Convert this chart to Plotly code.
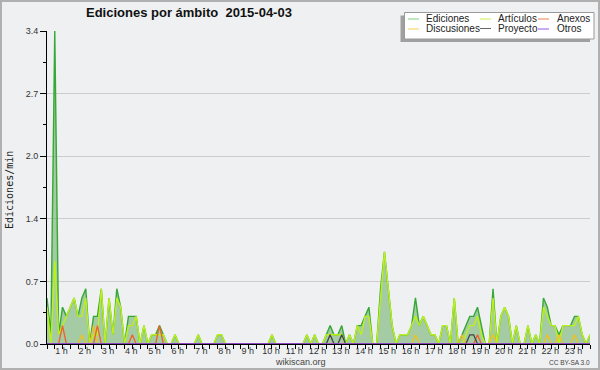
import plotly.graph_objects as go

N = 141  # 10-minute bins shown on the chart

def series(points):
    arr = [0.0] * N
    for k, v in points.items():
        arr[k] = v
    return arr

ediciones_pts = {0: 0.5, 1: 0.1, 2: 3.4, 3: 0.1, 4: 0.4, 5: 0.3, 6: 0.4, 7: 0.5, 8: 0.3, 9: 0.5,
                 10: 0.6, 12: 0.3, 13: 0.3, 14: 0.6, 16: 0.5, 17: 0.1, 18: 0.6, 19: 0.4,
                 21: 0.3, 22: 0.3, 23: 0.3, 25: 0.2, 27: 0.1, 28: 0.1, 29: 0.2, 30: 0.1,
                 33: 0.1, 39: 0.1, 44: 0.1, 45: 0.1, 58: 0.1, 67: 0.1, 69: 0.1,
                 72: 0.1, 73: 0.2, 74: 0.1, 75: 0.1, 76: 0.2, 78: 0.1,
                 80: 0.2, 81: 0.2, 82: 0.3, 83: 0.4, 86: 0.6, 87: 1.0, 88: 0.6, 89: 0.2,
                 91: 0.1, 92: 0.1, 93: 0.1, 94: 0.2, 95: 0.5, 96: 0.2, 97: 0.3, 98: 0.2, 99: 0.1, 100: 0.1,
                 102: 0.2, 103: 0.2, 105: 0.5, 107: 0.1, 108: 0.2, 109: 0.3, 110: 0.3, 111: 0.4, 112: 0.2,
                 115: 0.6, 117: 0.3, 118: 0.4, 119: 0.3, 121: 0.2, 124: 0.2, 126: 0.1,
                 128: 0.5, 129: 0.4, 130: 0.2, 131: 0.2, 132: 0.1, 133: 0.2, 134: 0.2, 135: 0.2,
                 136: 0.3, 137: 0.3, 138: 0.1, 140: 0.1}
articulos_pts = {0: 0.4, 2: 0.9, 3: 0.1, 4: 0.2, 5: 0.3, 6: 0.4, 7: 0.5, 8: 0.3, 9: 0.3, 10: 0.5,
                 12: 0.1, 13: 0.1, 14: 0.6, 16: 0.5, 17: 0.1, 18: 0.5, 19: 0.4,
                 21: 0.2, 22: 0.2, 23: 0.3, 25: 0.2, 27: 0.1, 28: 0.1, 29: 0.1, 30: 0.1,
                 33: 0.1, 39: 0.1, 44: 0.1, 45: 0.1, 58: 0.1, 67: 0.1, 69: 0.1,
                 72: 0.1, 73: 0.1, 74: 0.1, 75: 0.1, 76: 0.1, 78: 0.1,
                 80: 0.2, 81: 0.1, 82: 0.3, 83: 0.3, 86: 0.5, 87: 1.0, 88: 0.6, 89: 0.2,
                 91: 0.1, 92: 0.1, 93: 0.1, 94: 0.2, 95: 0.3, 96: 0.2, 97: 0.3, 98: 0.2, 99: 0.1, 100: 0.1,
                 102: 0.2, 103: 0.2, 105: 0.5, 108: 0.1, 109: 0.2, 110: 0.2, 111: 0.3, 112: 0.1,
                 115: 0.5, 117: 0.3, 118: 0.4, 119: 0.3, 121: 0.2, 124: 0.2, 126: 0.1,
                 128: 0.4, 129: 0.3, 130: 0.2, 131: 0.2, 133: 0.2, 134: 0.2, 135: 0.2,
                 136: 0.2, 137: 0.3, 138: 0.1, 140: 0.1}
anexos_pts = {4: 0.2, 13: 0.2, 22: 0.1, 29: 0.2, 111: 0.1}
discusiones_pts = {9: 0.1, 12: 0.2, 95: 0.1, 107: 0.1, 115: 0.1, 129: 0.1, 132: 0.1, 136: 0.1}
proyecto_pts = {73: 0.1, 76: 0.1, 109: 0.1, 110: 0.1}
otros_pts = {}

ediciones = series(ediciones_pts)
articulos = series(articulos_pts)
anexos = series(anexos_pts)
discusiones = series(discusiones_pts)
proyecto = series(proyecto_pts)
otros = series(otros_pts)

hours = list(range(1, 24))
hour_labels = [f"{h} h" for h in hours]
y_tick_vals = [0, 0.68, 1.36, 2.04, 2.72, 3.4]
y_tick_text = ["0.0", "0.7", "1.4", "2.0", "2.7", "3.4"]

x = list(range(N))

# pixel helpers (plot area: x 47..590, y 31..344)
L, R, T, B = 47, 590, 31, 344
def px(xp):
    return (xp - L) / (R - L)
def py(yp):
    return (B - yp) / (B - T)

fig = go.Figure()
fig.add_trace(go.Scatter(x=x, y=ediciones, mode="lines", name="Ediciones",
                         line=dict(color="#35a835", width=1.4),
                         fill="tozeroy", fillcolor="rgba(90,165,85,0.5)"))
fig.add_trace(go.Scatter(x=x, y=articulos, mode="lines", name="Artículos",
                         line=dict(color="#bdf01a", width=1.4)))
fig.add_trace(go.Scatter(x=x, y=discusiones, mode="lines", name="Discusiones",
                         line=dict(color="#f2c21a", width=1.3)))
fig.add_trace(go.Scatter(x=x, y=anexos, mode="lines", name="Anexos",
                         line=dict(color="#f0602a", width=1.3)))
fig.add_trace(go.Scatter(x=x, y=proyecto, mode="lines", name="Proyecto",
                         line=dict(color="#444444", width=1.3)))
fig.add_trace(go.Scatter(x=x, y=otros, mode="lines", name="Otros",
                         line=dict(color="#9944ee", width=1.3)))

label_pos = [6 * h - 2.26 for h in hours]

fig.update_layout(
    width=600, height=370,
    margin=dict(l=L, r=600 - R, t=T, b=370 - B, pad=0, autoexpand=False),
    paper_bgcolor="#eff0f1", plot_bgcolor="#eff0f1",
    showlegend=False,
    xaxis=dict(range=[0, N - 1], tickmode="array", tickvals=label_pos, ticktext=hour_labels,
               ticks="", ticklabelstandoff=-2, showgrid=False, zeroline=False, showline=True,
               linecolor="#000000", linewidth=1, automargin=False,
               tickfont=dict(family="Liberation Sans", size=9, color="#333333"),
               minor=dict(tickmode="array", tickvals=list(range(0, N, 2)), ticks="outside",
                          ticklen=4, tickcolor="#000000", showgrid=False)),
    yaxis=dict(range=[0, 3.4], tickmode="array", tickvals=y_tick_vals, ticktext=y_tick_text,
               ticks="outside", ticklen=6, tickcolor="#000000", showgrid=True, gridcolor="#cccccc",
               zeroline=False, showline=True, linecolor="#000000", linewidth=1, automargin=False,
               tickfont=dict(family="Liberation Sans", size=9, color="#333333"),
               minor=dict(tickmode="array", tickvals=[0.34, 1.02, 1.7, 2.38, 3.06], ticks="outside",
                          ticklen=3, tickcolor="#000000", showgrid=False)),
)

annotations = [
    dict(text="<b>Ediciones por ámbito \u00a02015-04-03</b>", x=px(188.5), y=py(13),
         font=dict(family="Liberation Sans", size=13, color="#111111")),
    dict(text="Ediciones/min", x=px(9), y=py(190), textangle=-90,
         font=dict(family="DejaVu Sans Mono", size=10, color="#222222")),
    dict(text="wikiscan.org", x=px(300), y=py(362),
         font=dict(family="Liberation Sans", size=9, color="#444444")),
    dict(text="CC BY-SA 3.0", x=px(569), y=py(362),
         font=dict(family="Liberation Sans", size=6.5, color="#444444")),
]

shapes = [
    dict(type="rect", xref="paper", yref="paper", x0=px(1), x1=px(599), y0=py(1), y1=py(369),
         line=dict(color="#b0b0b0", width=2), fillcolor="rgba(0,0,0,0)", layer="above"),
    dict(type="rect", xref="paper", yref="paper", x0=px(400.5), x1=px(590), y0=py(15.5), y1=py(42),
         line=dict(width=0), fillcolor="#a0a0a0", layer="above"),
    dict(type="rect", xref="paper", yref="paper", x0=px(404.5), x1=px(594), y0=py(12.5), y1=py(39),
         line=dict(color="#999999", width=1), fillcolor="#ffffff", layer="above"),
]

legend_items = [
    ("Ediciones", "#80d080", 408, 424, 19),
    ("Artículos", "#c8f050", 480, 496, 19),
    ("Anexos", "#f08050", 538, 555, 19),
    ("Discusiones", "#f5d050", 408, 424, 29),
    ("Proyecto", "#666666", 480, 496, 28.5),
    ("Otros", "#9955ee", 538, 555, 29),
]
for name, col, lx, tx, ry in legend_items:
    shapes.append(dict(type="line", xref="paper", yref="paper", x0=px(lx), x1=px(lx + 11),
                       y0=py(ry), y1=py(ry), line=dict(color=col, width=1), layer="above"))
    annotations.append(dict(text=name, x=px(tx), y=py(ry), xanchor="left",
                            font=dict(family="Liberation Sans", size=10, color="#222222")))

for a in annotations:
    a.setdefault("xanchor", "center")
    a.update(xref="paper", yref="paper", showarrow=False, yanchor="middle")

fig.update_layout(annotations=annotations, shapes=shapes)
fig.write_html("out.html", config={"displayModeBar": False},
               post_script="document.body.style.margin='0';document.body.style.padding='0';")
